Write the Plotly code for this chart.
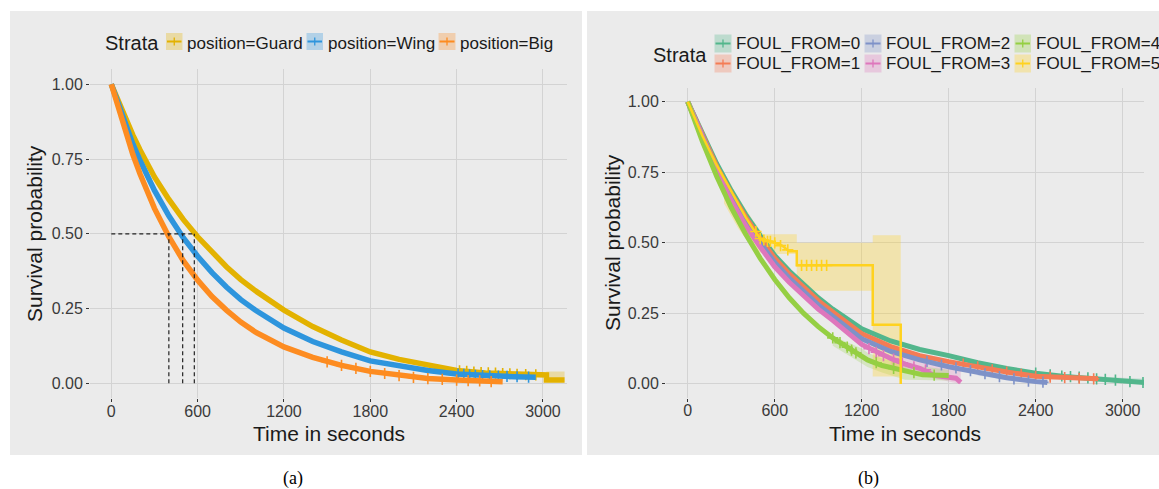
import plotly.graph_objects as go

W, H = 1159, 489

# ---------------- data: panel (a) ----------------
pos_names = ["position=Guard", "position=Wing", "position=Big"]
pos_colors = ["#E3B200", "#2E95DD", "#FD8C21"]

guard_t = [0, 50, 100, 150, 200, 300, 400, 500, 600, 700, 800, 900, 1000, 1200, 1400, 1600, 1800, 2000, 2200, 2400, 2600, 2800, 3024, 3024, 3150]
guard_s = [1.0, 0.94, 0.88, 0.83, 0.78, 0.69, 0.615, 0.548, 0.49, 0.437, 0.39, 0.347, 0.31, 0.245, 0.19, 0.145, 0.105, 0.08, 0.06, 0.043, 0.035, 0.03, 0.028, 0.011, 0.011]
wing_t = [0, 50, 100, 150, 200, 300, 400, 500, 600, 700, 800, 900, 1000, 1200, 1400, 1600, 1800, 2000, 2200, 2400, 2600, 2800, 2950]
wing_s = [1.0, 0.93, 0.86, 0.80, 0.745, 0.645, 0.56, 0.487, 0.425, 0.37, 0.322, 0.28, 0.245, 0.185, 0.14, 0.105, 0.075, 0.057, 0.043, 0.031, 0.025, 0.022, 0.02]
big_t = [0, 50, 100, 150, 200, 300, 400, 500, 600, 700, 800, 900, 1000, 1200, 1400, 1600, 1800, 2000, 2200, 2400, 2600, 2720]
big_s = [1.0, 0.92, 0.84, 0.765, 0.70, 0.585, 0.49, 0.41, 0.345, 0.29, 0.245, 0.205, 0.172, 0.122, 0.087, 0.06, 0.04, 0.026, 0.016, 0.011, 0.007, 0.005]

medians = [400, 496, 577]

guard_cens_t = [2420, 2470, 2520, 2570, 2620, 2670, 2720, 2770, 2820, 2880, 2950]
guard_cens_s = [0.042, 0.04, 0.038, 0.036, 0.035, 0.034, 0.033, 0.032, 0.03, 0.029, 0.028]
wing_cens_t = [2410, 2450, 2490, 2530, 2580, 2630, 2690, 2750, 2820, 2900]
wing_cens_s = [0.031, 0.03, 0.028, 0.027, 0.026, 0.025, 0.024, 0.023, 0.022, 0.021]
big_cens_t = [1500, 1600, 1700, 1800, 1900, 2000, 2100, 2200, 2300, 2400, 2480, 2560, 2640]
big_cens_s = [0.072, 0.06, 0.05, 0.04, 0.033, 0.026, 0.02, 0.016, 0.013, 0.011, 0.009, 0.008, 0.006]

guard_band_t = [3024, 3150]
guard_band_lo = [0.004, 0.004]
guard_band_hi = [0.04, 0.04]

# ---------------- data: panel (b) ----------------
foul_names = ["FOUL_FROM=0", "FOUL_FROM=1", "FOUL_FROM=2", "FOUL_FROM=3", "FOUL_FROM=4", "FOUL_FROM=5"]
foul_colors = ["#52B68C", "#F47C55", "#7E92C8", "#DE77BC", "#95CF43", "#FFD21E"]

f0_t = [0, 100, 200, 300, 400, 500, 600, 700, 800, 900, 1000, 1200, 1400, 1600, 1800, 2000, 2200, 2400, 2600, 2800, 3000, 3150]
f0_s = [1.0, 0.885, 0.78, 0.685, 0.60, 0.525, 0.455, 0.40, 0.35, 0.305, 0.265, 0.195, 0.152, 0.122, 0.10, 0.075, 0.055, 0.038, 0.026, 0.018, 0.01, 0.005]
f1_t = [0, 100, 200, 300, 400, 500, 600, 700, 800, 900, 1000, 1200, 1400, 1600, 1800, 2000, 2200, 2400, 2600, 2830]
f1_s = [1.0, 0.88, 0.77, 0.675, 0.59, 0.515, 0.445, 0.39, 0.34, 0.295, 0.255, 0.178, 0.132, 0.10, 0.079, 0.06, 0.042, 0.027, 0.022, 0.018]
f2_t = [0, 100, 200, 300, 400, 500, 600, 700, 800, 900, 1000, 1200, 1400, 1600, 1800, 2000, 2200, 2400, 2480]
f2_s = [1.0, 0.875, 0.76, 0.66, 0.575, 0.50, 0.43, 0.375, 0.325, 0.28, 0.24, 0.16, 0.115, 0.085, 0.061, 0.04, 0.022, 0.008, 0.005]
f3_t = [0, 100, 200, 300, 400, 500, 600, 700, 800, 900, 1000, 1200, 1400, 1500, 1600, 1700, 1850, 1883]
f3_s = [1.0, 0.87, 0.75, 0.65, 0.56, 0.485, 0.415, 0.36, 0.31, 0.265, 0.225, 0.14, 0.09, 0.07, 0.055, 0.03, 0.02, 0.005]
f4_t = [0, 100, 200, 300, 400, 500, 600, 700, 800, 900, 1000, 1100, 1200, 1240, 1340, 1500, 1620, 1800]
f4_s = [1.0, 0.86, 0.735, 0.625, 0.53, 0.445, 0.37, 0.305, 0.25, 0.203, 0.163, 0.13, 0.10, 0.085, 0.065, 0.045, 0.032, 0.03]
f5_t = [0, 100, 200, 300, 400, 450, 500, 600, 650, 700, 752, 752, 1276, 1276, 1469, 1469]
f5_s = [1.0, 0.88, 0.775, 0.68, 0.59, 0.55, 0.515, 0.50, 0.49, 0.47, 0.47, 0.42, 0.42, 0.21, 0.21, 0.0]

f5_cens_t = [470, 500, 525, 550, 570, 600, 640, 690, 785, 820, 854, 889, 923, 958]
f5_cens_s = [0.54, 0.515, 0.51, 0.505, 0.505, 0.50, 0.49, 0.475, 0.42, 0.42, 0.42, 0.42, 0.42, 0.42]
f4_cens_t = [1000, 1050, 1100, 1130, 1160, 1300, 1420, 1560, 1700]
f4_cens_s = [0.163, 0.146, 0.13, 0.12, 0.11, 0.075, 0.055, 0.04, 0.031]
f3_cens_t = [1250, 1300, 1350, 1420, 1480, 1560, 1640]
f3_cens_s = [0.125, 0.112, 0.1, 0.088, 0.075, 0.06, 0.05]
f2_cens_t = [1650, 1750, 1850, 1950, 2050, 2150, 2250, 2350, 2450]
f2_cens_s = [0.08, 0.067, 0.057, 0.047, 0.036, 0.026, 0.018, 0.01, 0.006]
f1_cens_t = [1900, 2000, 2100, 2200, 2300, 2400, 2500, 2600, 2700, 2800]
f1_cens_s = [0.07, 0.06, 0.05, 0.042, 0.034, 0.027, 0.024, 0.022, 0.02, 0.018]
f0_cens_t = [2400, 2500, 2580, 2640, 2700, 2760, 2820, 2880, 2950, 3050, 3140]
f0_cens_s = [0.038, 0.032, 0.028, 0.026, 0.024, 0.021, 0.018, 0.016, 0.013, 0.008, 0.005]

f5_band_t = [250, 350, 450, 520, 752, 752, 1276, 1276, 1469]
f5_band_hi = [0.75, 0.66, 0.58, 0.53, 0.53, 0.50, 0.50, 0.527, 0.527]
f5_band_lo = [0.64, 0.55, 0.48, 0.46, 0.46, 0.33, 0.33, 0.026, 0.026]
f4_band_t = [1000, 1200, 1240, 1340, 1500, 1800]
f4_band_hi = [0.17, 0.125, 0.11, 0.09, 0.07, 0.05]
f4_band_lo = [0.135, 0.075, 0.06, 0.04, 0.015, 0.012]
f3_band_t = [1400, 1600, 1883]
f3_band_hi = [0.11, 0.08, 0.05]
f3_band_lo = [0.065, 0.03, 0.0]
f2_band_t = [2000, 2250, 2480]
f2_band_hi = [0.05, 0.032, 0.02]
f2_band_lo = [0.03, 0.01, 0.0]
f0_band_t = [2800, 3150]
f0_band_hi = [0.026, 0.018]
f0_band_lo = [0.01, 0.0]

x_ticks = [0, 600, 1200, 1800, 2400, 3000]
y_ticks = [0.0, 0.25, 0.5, 0.75, 1.0]
y_ticklabels = ["0.00", "0.25", "0.50", "0.75", "1.00"]


def rgba(hexc, a):
    h = hexc.lstrip("#")
    return "rgba(%d,%d,%d,%.2f)" % (int(h[0:2], 16), int(h[2:4], 16), int(h[4:6], 16), a)


def px_x(p):
    return p / W


def px_y(p):
    return 1 - p / H


fig = go.Figure()


def add_band(t, lo, hi, color, xa, ya, alpha=0.3):
    fig.add_trace(go.Scatter(x=t, y=hi, mode="lines", line=dict(width=0, color=color),
                             xaxis=xa, yaxis=ya, showlegend=False, hoverinfo="skip"))
    fig.add_trace(go.Scatter(x=t, y=lo, mode="lines", line=dict(width=0, color=color),
                             fill="tonexty", fillcolor=rgba(color, alpha),
                             xaxis=xa, yaxis=ya, showlegend=False, hoverinfo="skip"))


def add_curve(t, s, color, xa, ya, width, name):
    fig.add_trace(go.Scatter(x=t, y=s, mode="lines", line=dict(width=width, color=color),
                             xaxis=xa, yaxis=ya, showlegend=False, name=name))


def add_cens(t, s, color, xa, ya):
    fig.add_trace(go.Scatter(x=t, y=s, mode="markers",
                             marker=dict(symbol="cross-thin", size=8,
                                         line=dict(width=1.6, color=color)),
                             xaxis=xa, yaxis=ya, showlegend=False, hoverinfo="skip"))


# ---- panel (a) ----
add_band(guard_band_t, guard_band_lo, guard_band_hi, pos_colors[0], "x", "y")
add_curve(guard_t, guard_s, pos_colors[0], "x", "y", 5.5, pos_names[0])
add_cens(guard_cens_t, guard_cens_s, pos_colors[0], "x", "y")
add_curve(wing_t, wing_s, pos_colors[1], "x", "y", 5.5, pos_names[1])
add_cens(wing_cens_t, wing_cens_s, pos_colors[1], "x", "y")
add_curve(big_t, big_s, pos_colors[2], "x", "y", 5.5, pos_names[2])
add_cens(big_cens_t, big_cens_s, pos_colors[2], "x", "y")

# median dashed lines
fig.add_trace(go.Scatter(x=[0, max(medians)], y=[0.5, 0.5], mode="lines",
                         line=dict(color="#222222", width=1.2, dash="4px,3px"),
                         xaxis="x", yaxis="y", showlegend=False, hoverinfo="skip"))
for m in medians:
    fig.add_trace(go.Scatter(x=[m, m], y=[0, 0.5], mode="lines",
                             line=dict(color="#222222", width=1.2, dash="4px,3px"),
                             xaxis="x", yaxis="y", showlegend=False, hoverinfo="skip"))

# ---- panel (b) ----
f_t = [f0_t, f1_t, f2_t, f3_t, f4_t, f5_t]
f_s = [f0_s, f1_s, f2_s, f3_s, f4_s, f5_s]
f_ct = [f0_cens_t, f1_cens_t, f2_cens_t, f3_cens_t, f4_cens_t, f5_cens_t]
f_cs = [f0_cens_s, f1_cens_s, f2_cens_s, f3_cens_s, f4_cens_s, f5_cens_s]

add_band(f0_band_t, f0_band_lo, f0_band_hi, foul_colors[0], "x2", "y2", 0.25)
add_band(f2_band_t, f2_band_lo, f2_band_hi, foul_colors[2], "x2", "y2", 0.25)
add_band(f3_band_t, f3_band_lo, f3_band_hi, foul_colors[3], "x2", "y2", 0.25)
add_band(f4_band_t, f4_band_lo, f4_band_hi, foul_colors[4], "x2", "y2", 0.25)
add_band(f5_band_t, f5_band_lo, f5_band_hi, foul_colors[5], "x2", "y2", 0.3)

for i in range(6):
    wdt = 2.5 if i == 5 else 5
    add_curve(f_t[i], f_s[i], foul_colors[i], "x2", "y2", wdt, foul_names[i])
    add_cens(f_ct[i], f_cs[i], foul_colors[i], "x2", "y2")

# ---------------- layout ----------------
GRAY = "#EBEBEB"
GRID = "#D3D3D3"
tickfont = dict(family="Liberation Sans, Arial, sans-serif", size=16, color="#3A3A3A")

axis_common = dict(showgrid=True, gridcolor=GRID, gridwidth=1.4, zeroline=False,
                   ticks="outside", ticklen=3, tickwidth=1, tickcolor="#333333",
                   tickfont=tickfont, showline=False)

fig.update_layout(
    width=W, height=H, autosize=False,
    margin=dict(l=0, r=0, t=0, b=0),
    paper_bgcolor="white", plot_bgcolor=GRAY,
    showlegend=False,
    xaxis=dict(domain=[px_x(90), px_x(567)], range=[-148, 3167], tickvals=x_ticks,
               anchor="y", ticklabelstandoff=-5, **axis_common),
    yaxis=dict(domain=[px_y(398.3), px_y(69.3)], range=[-0.05, 1.05], tickvals=y_ticks,
               ticktext=y_ticklabels, anchor="x", **axis_common),
    xaxis2=dict(domain=[px_x(666), px_x(1144)], range=[-150, 3147], tickvals=x_ticks,
                anchor="y2", ticklabelstandoff=-5, **axis_common),
    yaxis2=dict(domain=[px_y(398), px_y(87.6)], range=[-0.05, 1.05], tickvals=y_ticks,
                ticktext=y_ticklabels, anchor="x2", **axis_common),
)

shapes = []
# panel backgrounds
for x0, x1 in [(10, 582), (587, 1159)]:
    shapes.append(dict(type="rect", xref="paper", yref="paper", x0=px_x(x0), x1=px_x(x1),
                       y0=px_y(455), y1=px_y(11), fillcolor=GRAY, line=dict(width=0),
                       layer="below"))

annotations = []
font_txt = "Liberation Sans, Arial, sans-serif"


def ann(x, y, text, size, xanchor="center", angle=0, color="#1A1A1A", family=font_txt):
    annotations.append(dict(x=px_x(x), y=px_y(y), xref="paper", yref="paper", text=text,
                            showarrow=False, xanchor=xanchor, yanchor="middle",
                            textangle=angle, font=dict(family=family, size=size, color=color)))


def legend_key(x0, x1, y0, y1, color):
    shapes.append(dict(type="rect", xref="paper", yref="paper", x0=px_x(x0), x1=px_x(x1),
                       y0=px_y(y1), y1=px_y(y0), fillcolor=rgba(color, 0.3), line=dict(width=0)))
    yc = (y0 + y1) / 2
    xc = (x0 + x1) / 2
    shapes.append(dict(type="line", xref="paper", yref="paper", x0=px_x(x0 + 1), x1=px_x(x1 - 1),
                       y0=px_y(yc), y1=px_y(yc), line=dict(color=color, width=2)))
    shapes.append(dict(type="line", xref="paper", yref="paper", x0=px_x(xc), x1=px_x(xc),
                       y0=px_y(yc - 4), y1=px_y(yc + 4), line=dict(color=color, width=1.3)))


# legend (a)
ann(103, 43, "Strata", 20, xanchor="left")
leg_a_keys = [(166, 182.5), (306.5, 323), (438.5, 455.5)]
leg_a_text = [186, 327, 459]
for i in range(3):
    legend_key(leg_a_keys[i][0], leg_a_keys[i][1], 33, 50, pos_colors[i])
    ann(leg_a_text[i] - 1, 43, pos_names[i], 17, xanchor="left")

# legend (b)
ann(651, 55, "Strata", 20, xanchor="left")
leg_b_cols = [(714.5, 731.5), (864.5, 881.5), (1014.5, 1031)]
leg_b_text = [735, 885, 1034.5]
leg_b_rows = [(34.5, 52.5), (54.5, 72.5)]
for i in range(6):
    c, r = i // 2, i % 2
    legend_key(leg_b_cols[c][0], leg_b_cols[c][1], leg_b_rows[r][0], leg_b_rows[r][1], foul_colors[i])
    ann(leg_b_text[c] - 1, (leg_b_rows[r][0] + leg_b_rows[r][1]) / 2 + 0.5, foul_names[i], 17, xanchor="left")

# axis titles
ann(34, 234, "Survival probability", 21, angle=-90)
ann(328.5, 433, "Time in seconds", 21)
ann(612, 243, "Survival probability", 21, angle=-90)
ann(905, 433, "Time in seconds", 21)

# captions
ann(293, 478, "(a)", 18, color="#000000", family="Liberation Serif, DejaVu Serif, serif")
ann(868, 478, "(b)", 18, color="#000000", family="Liberation Serif, DejaVu Serif, serif")

fig.update_layout(shapes=shapes, annotations=annotations)

fig.write_html("out.html", config={"displayModeBar": False},
               post_script="document.body.style.margin='0';")
